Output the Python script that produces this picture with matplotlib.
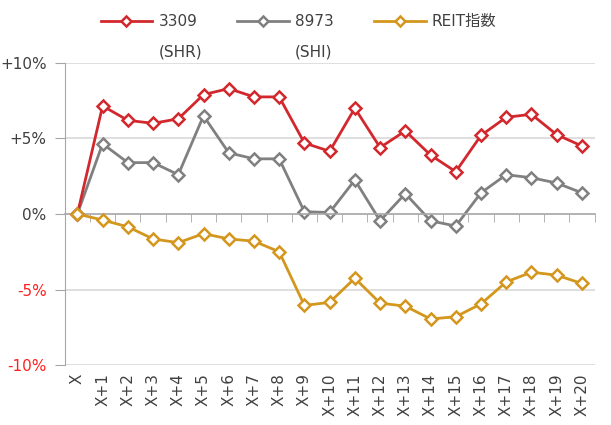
import matplotlib
matplotlib.use("Agg")
import matplotlib.pyplot as plt
from matplotlib.ticker import FixedLocator, FuncFormatter

plt.rcParams['font.family'] = ['DejaVu Sans', 'Noto Sans CJK JP']
plt.rcParams['font.size'] = 11

# カテゴリ（営業日）
days = ["X"] + [f"X+{i}" for i in range(1, 21)]

# 騰落率 (%)
shr_3309 = [0, 7.15, 6.2, 6.0, 6.3, 7.9, 8.3, 7.75, 7.75, 4.7, 4.15,
            7.0, 4.4, 5.5, 3.9, 2.8, 5.2, 6.4, 6.6, 5.25, 4.5]
shi_8973 = [0, 4.65, 3.4, 3.4, 2.6, 6.5, 4.05, 3.65, 3.65, 0.15, 0.1,
            2.25, -0.45, 1.35, -0.45, -0.8, 1.4, 2.6, 2.4, 2.05, 1.4]
reit_idx = [0, -0.4, -0.85, -1.65, -1.9, -1.3, -1.65, -1.8, -2.5, -6.05, -5.85,
            -4.25, -5.9, -6.1, -6.95, -6.8, -5.95, -4.5, -3.85, -4.05, -4.6]

series_names = ["3309", "8973", "REIT指数"]
series_subs = ["(SHR)", "(SHI)", ""]
yticks = [-10, -5, 0, 5, 10]

RED = "#D2282D"
GRAY = "#808080"
GOLD = "#D4971E"
AXIS = "#A6A6A6"
GRID = "#D9D9D9"

fig = plt.figure(figsize=(6.11, 4.25), dpi=100)
ax = fig.add_axes([0.106, 0.141, 0.867, 0.711])

x = list(range(len(days)))
lines = []
for vals, col, z in [(shr_3309, RED, 3), (shi_8973, GRAY, 2), (reit_idx, GOLD, 4)]:
    ln, = ax.plot(x, vals, color=col, lw=2, marker="D", ms=6.5, mfc="white",
                  mec=col, mew=1.8, zorder=z, clip_on=False)
    lines.append(ln)

ax.set_xlim(-0.5, len(days) - 0.5)
ax.set_ylim(-10, 10)

# 横グリッド
for v in yticks:
    if v != 0:
        ax.axhline(v, color=GRID, lw=1.2, zorder=0)

for s in ["top", "right"]:
    ax.spines[s].set_visible(False)
ax.spines["left"].set_color(AXIS)
ax.spines["bottom"].set_position(("data", 0))
ax.spines["bottom"].set_color(AXIS)
ax.spines["bottom"].set_linewidth(1.2)

# 0%線上の目盛（区切り）
ax.xaxis.set_major_locator(FixedLocator([]))
ax.xaxis.set_minor_locator(FixedLocator([i - 0.5 for i in range(len(days) + 1)]))
ax.tick_params(axis="x", which="minor", direction="out", length=6, color=AXIS)

ax.yaxis.set_major_locator(FixedLocator(yticks))
ax.yaxis.set_major_formatter(FuncFormatter(lambda v, p: f"{v:+.0f}%" if v != 0 else "0%"))
ax.tick_params(axis="y", direction="out", length=7, color=AXIS, pad=6)
for lab, v in zip(ax.get_yticklabels(), yticks):
    lab.set_color("#FF2020" if v < 0 else "#404040")

# 下部のカテゴリラベル
sec = ax.secondary_xaxis(0.0)
sec.set_xticks(x)
sec.set_xticklabels(days, rotation=90, color="#404040")
sec.tick_params(length=0, pad=6)
sec.spines["bottom"].set_visible(False)

leg = fig.legend(lines, series_names, loc="upper left", bbox_to_anchor=(0.152, 0.985),
                 ncol=3, frameon=False, handlelength=3.4, handletextpad=0.4,
                 columnspacing=2.6, borderpad=0, markerscale=0.75)
for t in leg.get_texts():
    t.set_color("#404040")

fig.canvas.draw()
W, H = fig.canvas.get_width_height()
for t, sub in zip(leg.get_texts(), series_subs):
    if sub:
        bb = t.get_window_extent()
        fig.text(bb.x0 / W, 1 - 52 / H, sub, ha="left", va="center", color="#404040")

fig.savefig("out.png", dpi=100)
